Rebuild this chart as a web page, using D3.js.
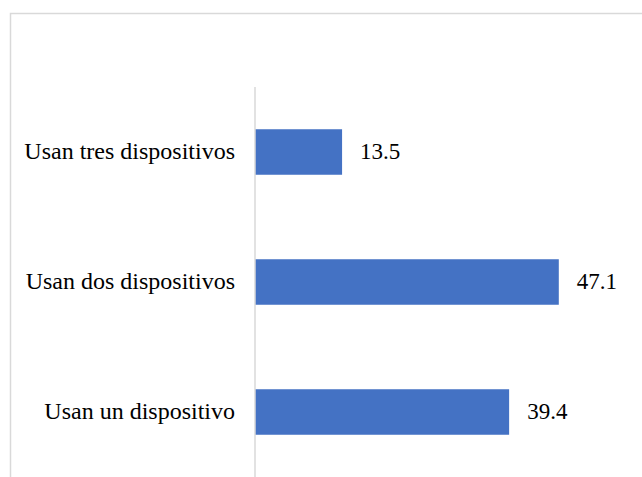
<!DOCTYPE html>
<html>
<head>
<meta charset="utf-8">
<script src="https://cdn.jsdelivr.net/npm/d3@7"></script>
<style>
    html, body { margin: 0; padding: 0; background: #fff; }
    svg { display: block; }
</style>
</head>
<body>
<div id="chart"></div>
<script>
'use strict';

var categories = ["Usan tres dispositivos", "Usan dos dispositivos", "Usan un dispositivo"];
var values = [13.5, 47.1, 39.4];
var valueLabels = ["13.5", "47.1", "39.4"];

var WIDTH = 642;
var HEIGHT = 477;

var svg = d3.select("#chart").append("svg")
    .attr("width", WIDTH)
    .attr("height", HEIGHT)
    .attr("font-family", "Liberation Serif");

// outer frame, cropped at right and bottom like the source image
svg.append("rect")
    .attr("x", 10.5)
    .attr("y", 13.5)
    .attr("width", 700)
    .attr("height", 600)
    .attr("fill", "none")
    .attr("stroke", "#d9d9d9")
    .attr("stroke-width", 1.5);

var x = d3.scaleLinear()
    .domain([0, 50])
    .range([255, 577.5]);

var y = d3.scaleBand()
    .domain(categories)
    .range([87, 477])
    .paddingInner(0.65)
    .paddingOuter(0.325);

svg.append("g")
    .selectAll("rect")
    .data(values)
    .enter().append("rect")
    .attr("x", x(0))
    .attr("y", function (d, i) { return y(categories[i]); })
    .attr("width", function (d) { return x(d) - x(0); })
    .attr("height", y.bandwidth())
    .attr("fill", "#4472c4");

// vertical category axis
var axis = svg.append("g")
    .attr("transform", "translate(" + x(0) + ",0)")
    .call(d3.axisLeft(y).tickSize(0).tickPadding(20));

axis.attr("fill", null)
    .attr("font-family", "Liberation Serif")
    .attr("font-size", 24);

axis.select(".domain")
    .attr("d", "M0," + y.range()[0] + "V" + y.range()[1])
    .attr("fill", "none")
    .attr("stroke", "#d9d9d9")
    .attr("stroke-width", 1.5);

axis.selectAll(".tick text")
    .attr("fill", null)
    .attr("font-family", "Liberation Serif")
    .attr("font-size", 24)
    .attr("dy", "0.3em");

svg.selectAll("text.value")
    .data(values)
    .enter().append("text")
    .attr("class", "value")
    .attr("x", function (d) { return x(d) + 18; })
    .attr("y", function (d, i) { return y(categories[i]) + y.bandwidth() / 2; })
    .attr("font-family", "Liberation Serif")
    .attr("font-size", 23)
    .attr("dy", "0.3em")
    .text(function (d, i) { return valueLabels[i]; });
</script>
</body>
</html>
